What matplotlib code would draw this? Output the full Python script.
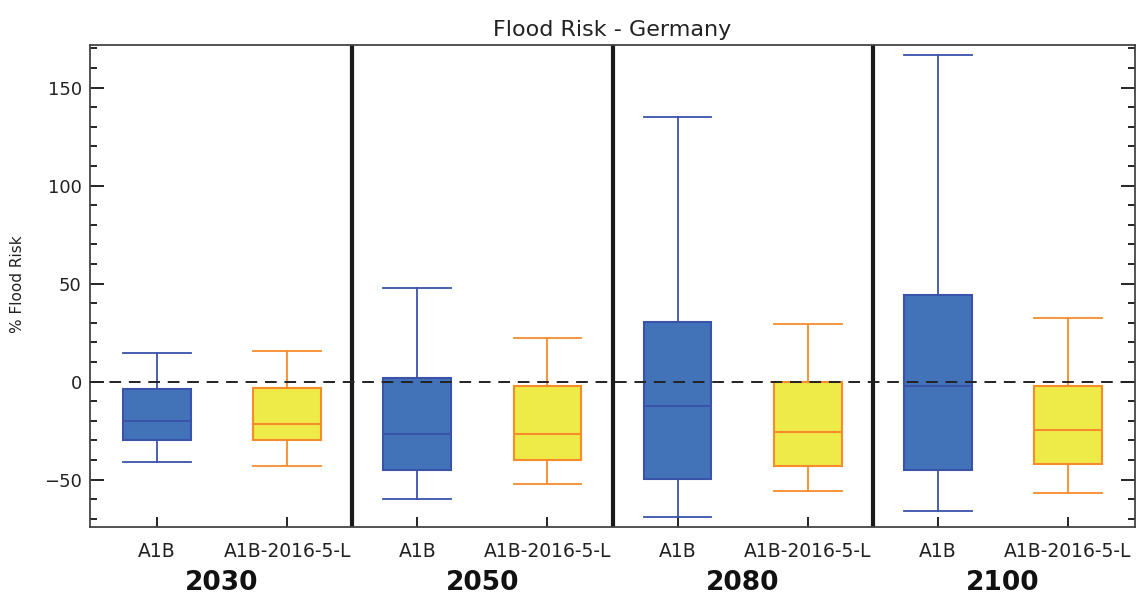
import matplotlib
matplotlib.use("Agg")
import matplotlib.pyplot as plt
from matplotlib.ticker import MultipleLocator

# Dane
years = ["2030", "2050", "2080", "2100"]
scenarios = ["A1B", "A1B-2016-5-L"]

a1b_low = [-41, -60, -69, -66]
a1b_q1 = [-30, -45, -49.5, -45]
a1b_med = [-20, -26.5, -12.5, -2]
a1b_q3 = [-4, 2, 30.5, 44]
a1b_high = [14.5, 48, 135, 166.5]

alt_low = [-43, -52, -56, -57]
alt_q1 = [-30, -40, -43, -42]
alt_med = [-21.5, -26.5, -25.5, -24.5]
alt_q3 = [-3, -2, 0, -2]
alt_high = [15.5, 22.5, 29.5, 32.5]

blue_fill = "#4273b9"
blue_edge = "#3a52a8"
yellow_fill = "#eeea48"
orange_edge = "#f88b2b"


def stats(lo, q1, med, q3, hi):
    return [dict(whislo=a, q1=b, med=c, q3=d, whishi=e, fliers=[])
            for a, b, c, d, e in zip(lo, q1, med, q3, hi)]


fig = plt.figure(figsize=(11.48, 5.99), dpi=100)
ax = fig.add_axes([0.0784, 0.1207, 0.9103, 0.805])

n = len(years)
pos_a = [1 + 2 * i for i in range(n)]
pos_b = [2 + 2 * i for i in range(n)]


def draw(st, pos, fill, edge):
    ax.bxp(st, positions=pos, widths=0.52, patch_artist=True, showfliers=False,
           boxprops=dict(facecolor=fill, edgecolor=edge, linewidth=1.5),
           medianprops=dict(color=edge, linewidth=1.5),
           whiskerprops=dict(color=edge, linewidth=1.3),
           capprops=dict(color=edge, linewidth=1.3),
           capwidths=0.52, manage_ticks=False)


draw(stats(a1b_low, a1b_q1, a1b_med, a1b_q3, a1b_high), pos_a, blue_fill, blue_edge)
draw(stats(alt_low, alt_q1, alt_med, alt_q3, alt_high), pos_b, yellow_fill, orange_edge)

ax.axhline(0, color="#222222", linestyle=(0, (6, 4)), linewidth=1.4, zorder=5)
for i in range(1, n):
    ax.axvline(2 * i + 0.5, color="#1a1a1a", linewidth=3)

ax.set_xlim(0.485, 2 * n + 0.515)
ax.set_ylim(-74, 172)

ax.set_xticks(pos_a + pos_b)
ax.set_xticklabels([scenarios[0]] * n + [scenarios[1]] * n, fontsize=13.5, color="#222222")
ax.yaxis.set_major_locator(MultipleLocator(50))
ax.yaxis.set_minor_locator(MultipleLocator(10))
ax.tick_params(axis="y", which="major", direction="in", length=10, width=1.2,
               right=True, labelsize=13, labelcolor="#222222", pad=6)
ax.tick_params(axis="y", which="minor", direction="in", length=5, width=1.2, right=True)
ax.tick_params(axis="x", direction="in", length=7, width=1.2, pad=11)
for s in ax.spines.values():
    s.set_color("#444444")
    s.set_linewidth(1.3)

ax.set_title("Flood Risk - Germany", fontsize=16, color="#222222", pad=6)
fig.text(18 / 1148, 1 - 284 / 599, "% Flood Risk", rotation=90, fontsize=11,
         ha="center", va="center", color="#222222")

for i, y in enumerate(years):
    xc = 2 * i + 1.5
    ax.text(xc, -0.116, y, transform=ax.get_xaxis_transform(), ha="center", va="center",
            fontsize=19, fontweight="bold", color="#111111")

fig.savefig("out.png", dpi=100)
